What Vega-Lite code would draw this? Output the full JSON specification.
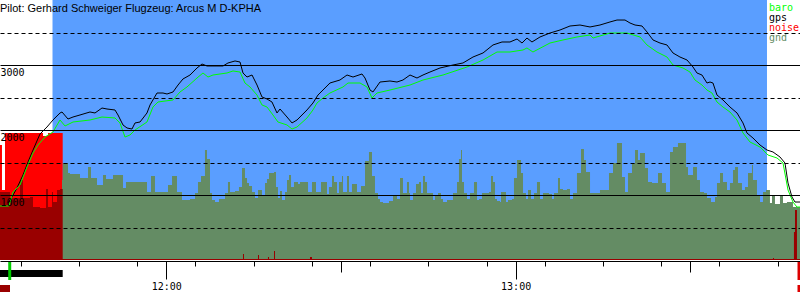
{
  "$schema": "https://vega.github.io/schema/vega-lite/v6.json",
  "width": 800,
  "height": 300,
  "padding": 0,
  "autosize": {"type": "none"},
  "background": "#ffffff",
  "config": {"view": {"stroke": null}},
  "title": {
    "text": "Pilot: Gerhard Schweiger Flugzeug: Arcus M D-KPHA",
    "anchor": "start",
    "frame": "group",
    "orient": "top",
    "offset": 0,
    "dy": 23,
    "baseline": "alphabetic",
    "font": "Liberation Sans",
    "fontSize": 11,
    "fontWeight": "normal",
    "color": "#000000"
  },
  "datasets": {
    "window": [{"start": 700.45, "end": 823.18}],
    "noiseHigh": [
      {"t": 691.43, "noise": 1769}, {"t": 691.77, "noise": 1077}, {"t": 692.29, "noise": 1954},
      {"t": 698.82, "noise": 1908}, {"t": 699.68, "noise": 1954}, {"t": 702.20, "noise": 0}
    ],
    "noiseLow": [
      {"t": 691.43, "noise": 1046}, {"t": 693.15, "noise": 954}, {"t": 694.87, "noise": 1231},
      {"t": 695.38, "noise": 954}, {"t": 696.58, "noise": 969}, {"t": 697.10, "noise": 815},
      {"t": 698.30, "noise": 800}, {"t": 699.33, "noise": 1092}, {"t": 699.68, "noise": 815},
      {"t": 700.36, "noise": 1046}, {"t": 700.53, "noise": 892}, {"t": 701.22, "noise": 1077},
      {"t": 701.74, "noise": 1092}, {"t": 702.20, "noise": 15}, {"t": 733.17, "noise": 92},
      {"t": 733.34, "noise": 15}, {"t": 735.75, "noise": 77}, {"t": 735.92, "noise": 15},
      {"t": 737.46, "noise": 46}, {"t": 737.64, "noise": 15}, {"t": 738.50, "noise": 138},
      {"t": 738.67, "noise": 15}, {"t": 744.68, "noise": 46}, {"t": 745.02, "noise": 15},
      {"t": 824.21, "noise": 31}, {"t": 824.38, "noise": 15}, {"t": 827.81, "noise": 431},
      {"t": 827.99, "noise": 769}, {"t": 828.33, "noise": 15}, {"t": 828.85, "noise": 15}
    ],
    "ground": [
      {"t": 702.08, "g": 1231}, {"t": 702.25, "g": 1492}, {"t": 703.11, "g": 1338}, {"t": 703.45, "g": 1323},
      {"t": 705.17, "g": 1262}, {"t": 706.55, "g": 1431}, {"t": 707.06, "g": 1262}, {"t": 708.09, "g": 1154},
      {"t": 709.12, "g": 1308}, {"t": 709.64, "g": 1246}, {"t": 710.84, "g": 1308}, {"t": 712.56, "g": 1108},
      {"t": 713.07, "g": 1200}, {"t": 716.68, "g": 1046}, {"t": 717.37, "g": 1292}, {"t": 718.05, "g": 1046},
      {"t": 720.29, "g": 1154}, {"t": 720.98, "g": 1292}, {"t": 721.83, "g": 1046}, {"t": 722.69, "g": 923},
      {"t": 724.07, "g": 938}, {"t": 724.93, "g": 1031}, {"t": 725.44, "g": 1200}, {"t": 725.96, "g": 1292},
      {"t": 726.64, "g": 1692}, {"t": 726.99, "g": 1554}, {"t": 727.50, "g": 1031}, {"t": 727.85, "g": 923},
      {"t": 728.36, "g": 892}, {"t": 729.05, "g": 938}, {"t": 730.08, "g": 1031}, {"t": 730.59, "g": 1200},
      {"t": 730.94, "g": 1046}, {"t": 731.80, "g": 1062}, {"t": 732.48, "g": 1123}, {"t": 733.00, "g": 1415},
      {"t": 733.51, "g": 1262}, {"t": 733.86, "g": 1185}, {"t": 734.20, "g": 1138}, {"t": 734.72, "g": 1046},
      {"t": 735.23, "g": 954}, {"t": 735.75, "g": 1077}, {"t": 736.43, "g": 985}, {"t": 736.95, "g": 1185},
      {"t": 737.29, "g": 1246}, {"t": 737.64, "g": 1338}, {"t": 738.50, "g": 1354}, {"t": 738.84, "g": 1123},
      {"t": 739.18, "g": 954}, {"t": 739.53, "g": 1062}, {"t": 739.87, "g": 923}, {"t": 740.39, "g": 1046},
      {"t": 740.73, "g": 1231}, {"t": 741.07, "g": 1308}, {"t": 741.42, "g": 1123}, {"t": 741.93, "g": 1200},
      {"t": 742.62, "g": 1169}, {"t": 742.96, "g": 1200}, {"t": 744.34, "g": 1046}, {"t": 745.02, "g": 1200},
      {"t": 745.71, "g": 1046}, {"t": 746.57, "g": 1200}, {"t": 747.60, "g": 1015}, {"t": 747.94, "g": 1123},
      {"t": 748.46, "g": 1292}, {"t": 748.80, "g": 1200}, {"t": 749.32, "g": 1031}, {"t": 749.66, "g": 1200},
      {"t": 750.18, "g": 1292}, {"t": 750.35, "g": 1046}, {"t": 751.04, "g": 1292}, {"t": 751.38, "g": 1046},
      {"t": 751.89, "g": 1169}, {"t": 752.75, "g": 1046}, {"t": 753.44, "g": 1138}, {"t": 754.13, "g": 1523},
      {"t": 754.81, "g": 1662}, {"t": 755.33, "g": 1292}, {"t": 755.84, "g": 1031}, {"t": 756.36, "g": 938},
      {"t": 756.70, "g": 892}, {"t": 757.22, "g": 877}, {"t": 758.25, "g": 908}, {"t": 758.94, "g": 985},
      {"t": 759.62, "g": 938}, {"t": 760.14, "g": 1262}, {"t": 760.65, "g": 1031}, {"t": 761.34, "g": 1200},
      {"t": 761.68, "g": 1031}, {"t": 761.86, "g": 923}, {"t": 762.37, "g": 1031}, {"t": 762.89, "g": 1169},
      {"t": 763.40, "g": 1200}, {"t": 763.75, "g": 1031}, {"t": 764.09, "g": 1292}, {"t": 764.43, "g": 1200},
      {"t": 764.78, "g": 1031}, {"t": 765.81, "g": 923}, {"t": 766.15, "g": 985}, {"t": 766.67, "g": 1031},
      {"t": 767.18, "g": 938}, {"t": 767.53, "g": 892}, {"t": 768.21, "g": 923}, {"t": 769.24, "g": 1031},
      {"t": 769.93, "g": 1200}, {"t": 770.27, "g": 1554}, {"t": 770.62, "g": 1692}, {"t": 770.79, "g": 1200},
      {"t": 771.13, "g": 1031}, {"t": 771.65, "g": 938}, {"t": 772.16, "g": 1031}, {"t": 772.85, "g": 1200},
      {"t": 773.37, "g": 923}, {"t": 773.71, "g": 938}, {"t": 774.22, "g": 1031}, {"t": 775.43, "g": 1046},
      {"t": 775.77, "g": 1292}, {"t": 776.11, "g": 1200}, {"t": 776.46, "g": 938}, {"t": 776.80, "g": 908},
      {"t": 777.32, "g": 892}, {"t": 777.49, "g": 1046}, {"t": 778.35, "g": 892}, {"t": 778.69, "g": 923},
      {"t": 779.38, "g": 938}, {"t": 779.72, "g": 1262}, {"t": 780.24, "g": 1538}, {"t": 780.92, "g": 1338},
      {"t": 781.27, "g": 1031}, {"t": 781.78, "g": 938}, {"t": 782.13, "g": 1077}, {"t": 782.64, "g": 938},
      {"t": 783.16, "g": 1031}, {"t": 783.67, "g": 1200}, {"t": 784.19, "g": 938}, {"t": 784.70, "g": 1031},
      {"t": 785.73, "g": 1015}, {"t": 786.25, "g": 938}, {"t": 786.59, "g": 1031}, {"t": 787.28, "g": 1262},
      {"t": 787.62, "g": 1092}, {"t": 788.14, "g": 1077}, {"t": 788.82, "g": 1092}, {"t": 789.34, "g": 938},
      {"t": 789.86, "g": 1031}, {"t": 790.54, "g": 1338}, {"t": 791.23, "g": 1708}, {"t": 791.74, "g": 1538},
      {"t": 792.09, "g": 1354}, {"t": 792.78, "g": 1031}, {"t": 794.49, "g": 1077}, {"t": 796.04, "g": 1338},
      {"t": 796.73, "g": 1492}, {"t": 797.41, "g": 1800}, {"t": 798.27, "g": 1277}, {"t": 798.79, "g": 1046},
      {"t": 799.30, "g": 1338}, {"t": 799.99, "g": 1492}, {"t": 800.51, "g": 1692}, {"t": 801.02, "g": 1538},
      {"t": 801.36, "g": 1646}, {"t": 802.22, "g": 1415}, {"t": 802.74, "g": 1200}, {"t": 803.43, "g": 1185},
      {"t": 804.46, "g": 1338}, {"t": 805.14, "g": 1185}, {"t": 805.83, "g": 1046}, {"t": 806.52, "g": 1662},
      {"t": 807.03, "g": 1738}, {"t": 807.89, "g": 1800}, {"t": 809.27, "g": 1431}, {"t": 809.61, "g": 1308},
      {"t": 810.47, "g": 1431}, {"t": 811.15, "g": 1231}, {"t": 811.67, "g": 1046}, {"t": 812.36, "g": 1031},
      {"t": 812.87, "g": 954}, {"t": 813.56, "g": 892}, {"t": 814.25, "g": 969}, {"t": 814.59, "g": 1185},
      {"t": 815.11, "g": 1338}, {"t": 815.62, "g": 1200}, {"t": 816.31, "g": 1077}, {"t": 816.82, "g": 1185},
      {"t": 817.34, "g": 1385}, {"t": 817.68, "g": 1431}, {"t": 818.20, "g": 1185}, {"t": 818.88, "g": 1077},
      {"t": 819.40, "g": 1123}, {"t": 819.92, "g": 1338}, {"t": 820.60, "g": 1462}, {"t": 820.77, "g": 1231},
      {"t": 821.46, "g": 1000}, {"t": 821.98, "g": 892}, {"t": 822.49, "g": 1046}, {"t": 823.01, "g": 1077},
      {"t": 823.69, "g": 877}, {"t": 824.04, "g": 1000}, {"t": 824.55, "g": 862}, {"t": 825.41, "g": 1000},
      {"t": 825.93, "g": 877}, {"t": 826.61, "g": 892}, {"t": 827.64, "g": 815}, {"t": 828.85, "g": 815}
    ],
    "flight": [
      {"t": 692.80, "s": "gps", "a": 877}, {"t": 693.49, "s": "gps", "a": 969}, {"t": 694.35, "s": "gps", "a": 1108},
      {"t": 695.38, "s": "gps", "a": 1308}, {"t": 696.24, "s": "gps", "a": 1508}, {"t": 697.10, "s": "gps", "a": 1692},
      {"t": 698.30, "s": "gps", "a": 1938}, {"t": 699.50, "s": "gps", "a": 2046}, {"t": 700.53, "s": "gps", "a": 2154},
      {"t": 701.74, "s": "gps", "a": 2262}, {"t": 702.08, "s": "gps", "a": 2277}, {"t": 703.11, "s": "gps", "a": 2169},
      {"t": 703.97, "s": "gps", "a": 2200}, {"t": 705.17, "s": "gps", "a": 2231}, {"t": 706.89, "s": "gps", "a": 2277},
      {"t": 707.75, "s": "gps", "a": 2262}, {"t": 708.95, "s": "gps", "a": 2338}, {"t": 709.81, "s": "gps", "a": 2323},
      {"t": 711.18, "s": "gps", "a": 2308}, {"t": 711.70, "s": "gps", "a": 2231}, {"t": 712.56, "s": "gps", "a": 2077},
      {"t": 713.25, "s": "gps", "a": 2031}, {"t": 714.10, "s": "gps", "a": 2015}, {"t": 714.62, "s": "gps", "a": 2108},
      {"t": 715.48, "s": "gps", "a": 2123}, {"t": 716.68, "s": "gps", "a": 2262}, {"t": 717.20, "s": "gps", "a": 2385},
      {"t": 718.40, "s": "gps", "a": 2569}, {"t": 719.43, "s": "gps", "a": 2569}, {"t": 720.12, "s": "gps", "a": 2554},
      {"t": 721.15, "s": "gps", "a": 2585}, {"t": 722.01, "s": "gps", "a": 2692}, {"t": 722.86, "s": "gps", "a": 2785},
      {"t": 724.07, "s": "gps", "a": 2846}, {"t": 725.27, "s": "gps", "a": 2954}, {"t": 726.13, "s": "gps", "a": 3015},
      {"t": 726.99, "s": "gps", "a": 2985}, {"t": 727.85, "s": "gps", "a": 2985}, {"t": 728.70, "s": "gps", "a": 2985},
      {"t": 729.74, "s": "gps", "a": 2985}, {"t": 730.59, "s": "gps", "a": 3031}, {"t": 731.80, "s": "gps", "a": 3062},
      {"t": 732.66, "s": "gps", "a": 3046}, {"t": 733.17, "s": "gps", "a": 2877}, {"t": 733.86, "s": "gps", "a": 2815},
      {"t": 734.72, "s": "gps", "a": 2846}, {"t": 735.58, "s": "gps", "a": 2692}, {"t": 736.43, "s": "gps", "a": 2508},
      {"t": 737.29, "s": "gps", "a": 2477}, {"t": 738.15, "s": "gps", "a": 2431}, {"t": 739.01, "s": "gps", "a": 2262},
      {"t": 739.53, "s": "gps", "a": 2323}, {"t": 740.73, "s": "gps", "a": 2200}, {"t": 741.59, "s": "gps", "a": 2108},
      {"t": 742.45, "s": "gps", "a": 2154}, {"t": 744.16, "s": "gps", "a": 2308}, {"t": 745.19, "s": "gps", "a": 2415},
      {"t": 746.05, "s": "gps", "a": 2538}, {"t": 746.91, "s": "gps", "a": 2615}, {"t": 748.11, "s": "gps", "a": 2723},
      {"t": 749.83, "s": "gps", "a": 2769}, {"t": 751.04, "s": "gps", "a": 2846}, {"t": 752.07, "s": "gps", "a": 2815},
      {"t": 753.61, "s": "gps", "a": 2862}, {"t": 754.13, "s": "gps", "a": 2800}, {"t": 754.99, "s": "gps", "a": 2615},
      {"t": 755.50, "s": "gps", "a": 2585}, {"t": 756.70, "s": "gps", "a": 2738}, {"t": 758.42, "s": "gps", "a": 2754},
      {"t": 759.62, "s": "gps", "a": 2738}, {"t": 760.65, "s": "gps", "a": 2769}, {"t": 761.86, "s": "gps", "a": 2846},
      {"t": 763.06, "s": "gps", "a": 2800}, {"t": 764.09, "s": "gps", "a": 2846}, {"t": 765.29, "s": "gps", "a": 2892},
      {"t": 767.01, "s": "gps", "a": 2954}, {"t": 769.24, "s": "gps", "a": 3000}, {"t": 770.96, "s": "gps", "a": 3031},
      {"t": 772.68, "s": "gps", "a": 3123}, {"t": 774.40, "s": "gps", "a": 3185}, {"t": 776.11, "s": "gps", "a": 3308},
      {"t": 777.66, "s": "gps", "a": 3354}, {"t": 779.03, "s": "gps", "a": 3354}, {"t": 780.24, "s": "gps", "a": 3400},
      {"t": 781.10, "s": "gps", "a": 3338}, {"t": 781.95, "s": "gps", "a": 3415}, {"t": 782.81, "s": "gps", "a": 3354},
      {"t": 784.19, "s": "gps", "a": 3431}, {"t": 785.90, "s": "gps", "a": 3492}, {"t": 787.62, "s": "gps", "a": 3538},
      {"t": 789.34, "s": "gps", "a": 3600}, {"t": 791.06, "s": "gps", "a": 3615}, {"t": 792.78, "s": "gps", "a": 3585},
      {"t": 794.49, "s": "gps", "a": 3615}, {"t": 796.21, "s": "gps", "a": 3662}, {"t": 797.41, "s": "gps", "a": 3692},
      {"t": 798.79, "s": "gps", "a": 3692}, {"t": 799.65, "s": "gps", "a": 3646}, {"t": 800.51, "s": "gps", "a": 3615},
      {"t": 801.71, "s": "gps", "a": 3600}, {"t": 802.57, "s": "gps", "a": 3508}, {"t": 803.60, "s": "gps", "a": 3385},
      {"t": 804.80, "s": "gps", "a": 3338}, {"t": 806.00, "s": "gps", "a": 3308}, {"t": 807.03, "s": "gps", "a": 3185},
      {"t": 808.23, "s": "gps", "a": 3123}, {"t": 809.44, "s": "gps", "a": 3077}, {"t": 810.47, "s": "gps", "a": 2969},
      {"t": 811.15, "s": "gps", "a": 2877}, {"t": 812.01, "s": "gps", "a": 2846}, {"t": 812.87, "s": "gps", "a": 2723},
      {"t": 813.39, "s": "gps", "a": 2738}, {"t": 813.90, "s": "gps", "a": 2723}, {"t": 814.59, "s": "gps", "a": 2538},
      {"t": 815.62, "s": "gps", "a": 2462}, {"t": 816.82, "s": "gps", "a": 2354}, {"t": 818.03, "s": "gps", "a": 2262},
      {"t": 819.06, "s": "gps", "a": 2108}, {"t": 819.74, "s": "gps", "a": 1954}, {"t": 820.77, "s": "gps", "a": 1877},
      {"t": 821.98, "s": "gps", "a": 1769}, {"t": 823.18, "s": "gps", "a": 1692}, {"t": 824.21, "s": "gps", "a": 1662},
      {"t": 825.41, "s": "gps", "a": 1585}, {"t": 826.27, "s": "gps", "a": 1492}, {"t": 826.79, "s": "gps", "a": 1185},
      {"t": 827.47, "s": "gps", "a": 969}, {"t": 827.99, "s": "gps", "a": 892}, {"t": 828.85, "s": "gps", "a": 892},
      {"t": 691.43, "s": "baro", "a": 831}, {"t": 692.98, "s": "baro", "a": 831}, {"t": 693.66, "s": "baro", "a": 1046},
      {"t": 694.87, "s": "baro", "a": 1154}, {"t": 696.07, "s": "baro", "a": 1431}, {"t": 697.10, "s": "baro", "a": 1646},
      {"t": 697.96, "s": "baro", "a": 1769}, {"t": 699.16, "s": "baro", "a": 1892}, {"t": 700.53, "s": "baro", "a": 1969},
      {"t": 701.74, "s": "baro", "a": 2154}, {"t": 702.60, "s": "baro", "a": 2062}, {"t": 703.97, "s": "baro", "a": 2123},
      {"t": 706.89, "s": "baro", "a": 2154}, {"t": 708.95, "s": "baro", "a": 2200}, {"t": 711.18, "s": "baro", "a": 2185},
      {"t": 712.04, "s": "baro", "a": 2108}, {"t": 712.90, "s": "baro", "a": 1892}, {"t": 713.76, "s": "baro", "a": 1923},
      {"t": 714.62, "s": "baro", "a": 2000}, {"t": 716.68, "s": "baro", "a": 2123}, {"t": 717.71, "s": "baro", "a": 2354},
      {"t": 718.57, "s": "baro", "a": 2431}, {"t": 721.15, "s": "baro", "a": 2462}, {"t": 722.35, "s": "baro", "a": 2585},
      {"t": 723.55, "s": "baro", "a": 2662}, {"t": 725.27, "s": "baro", "a": 2800}, {"t": 726.30, "s": "baro", "a": 2877},
      {"t": 727.16, "s": "baro", "a": 2815}, {"t": 728.02, "s": "baro", "a": 2846}, {"t": 730.42, "s": "baro", "a": 2877},
      {"t": 731.45, "s": "baro", "a": 2908}, {"t": 732.66, "s": "baro", "a": 2892}, {"t": 733.51, "s": "baro", "a": 2723},
      {"t": 734.37, "s": "baro", "a": 2662}, {"t": 735.58, "s": "baro", "a": 2538}, {"t": 736.43, "s": "baro", "a": 2385},
      {"t": 737.29, "s": "baro", "a": 2354}, {"t": 738.32, "s": "baro", "a": 2231}, {"t": 739.18, "s": "baro", "a": 2123},
      {"t": 740.73, "s": "baro", "a": 2077}, {"t": 741.59, "s": "baro", "a": 2015}, {"t": 742.45, "s": "baro", "a": 2046},
      {"t": 744.16, "s": "baro", "a": 2185}, {"t": 745.19, "s": "baro", "a": 2308}, {"t": 745.88, "s": "baro", "a": 2415},
      {"t": 746.91, "s": "baro", "a": 2492}, {"t": 748.11, "s": "baro", "a": 2569}, {"t": 750.35, "s": "baro", "a": 2662},
      {"t": 751.21, "s": "baro", "a": 2723}, {"t": 753.27, "s": "baro", "a": 2723}, {"t": 754.47, "s": "baro", "a": 2662},
      {"t": 755.33, "s": "baro", "a": 2492}, {"t": 756.19, "s": "baro", "a": 2569}, {"t": 758.42, "s": "baro", "a": 2615},
      {"t": 761.86, "s": "baro", "a": 2692}, {"t": 764.09, "s": "baro", "a": 2769}, {"t": 767.53, "s": "baro", "a": 2846},
      {"t": 771.65, "s": "baro", "a": 2969}, {"t": 774.40, "s": "baro", "a": 3077}, {"t": 776.80, "s": "baro", "a": 3200},
      {"t": 779.03, "s": "baro", "a": 3200}, {"t": 781.27, "s": "baro", "a": 3231}, {"t": 781.95, "s": "baro", "a": 3262},
      {"t": 782.98, "s": "baro", "a": 3200}, {"t": 785.90, "s": "baro", "a": 3338}, {"t": 788.14, "s": "baro", "a": 3385},
      {"t": 790.54, "s": "baro", "a": 3431}, {"t": 792.78, "s": "baro", "a": 3462}, {"t": 793.29, "s": "baro", "a": 3415},
      {"t": 796.21, "s": "baro", "a": 3492}, {"t": 799.13, "s": "baro", "a": 3492}, {"t": 801.36, "s": "baro", "a": 3431},
      {"t": 802.57, "s": "baro", "a": 3308}, {"t": 804.28, "s": "baro", "a": 3200}, {"t": 806.00, "s": "baro", "a": 3123},
      {"t": 807.03, "s": "baro", "a": 3000}, {"t": 808.75, "s": "baro", "a": 2954}, {"t": 809.95, "s": "baro", "a": 2892},
      {"t": 810.81, "s": "baro", "a": 2769}, {"t": 812.01, "s": "baro", "a": 2692}, {"t": 812.87, "s": "baro", "a": 2615},
      {"t": 813.73, "s": "baro", "a": 2569}, {"t": 814.59, "s": "baro", "a": 2431}, {"t": 815.62, "s": "baro", "a": 2354},
      {"t": 816.82, "s": "baro", "a": 2277}, {"t": 818.03, "s": "baro", "a": 2154}, {"t": 819.06, "s": "baro", "a": 1954},
      {"t": 820.26, "s": "baro", "a": 1815}, {"t": 821.98, "s": "baro", "a": 1738}, {"t": 823.35, "s": "baro", "a": 1615},
      {"t": 824.90, "s": "baro", "a": 1569}, {"t": 825.93, "s": "baro", "a": 1492}, {"t": 826.79, "s": "baro", "a": 1077},
      {"t": 827.64, "s": "baro", "a": 892}, {"t": 828.33, "s": "baro", "a": 815}, {"t": 828.85, "s": "baro", "a": 815}
    ],
    "events": [
      {"kind": "engine", "lane": "engine", "t0": 691.43, "t1": 702.20},
      {"kind": "noiseLow", "lane": "noise", "t0": 691.43, "t1": 693.15},
      {"kind": "noiseHigh", "lane": "noise", "t0": 828.42, "t1": 828.85},
      {"kind": "takeoff", "lane": "engine", "t0": 693.10},
      {"kind": "landing", "lane": "engine", "t0": 828.68}
    ]
  },
  "layer": [
    {
      "layer": [
        {
          "data": {"name": "window"},
          "mark": {"type": "rect", "color": "#5a9eff"},
          "encoding": {
            "x": {"field": "start", "type": "quantitative", "title": null},
            "x2": {"field": "end"},
            "y": {"datum": 4000, "type": "quantitative", "title": null},
            "y2": {"datum": 0}
          }
        },
        {
          "data": {"name": "noiseHigh"},
          "mark": {"type": "area", "interpolate": "step-after"},
          "encoding": {
            "x": {"field": "t", "type": "quantitative", "title": null},
            "y": {"field": "noise", "type": "quantitative", "title": null},
            "y2": {"datum": 0},
            "color": {"datum": "noise", "type": "nominal"}
          }
        },
        {
          "data": {"name": "ground"},
          "mark": {"type": "area", "interpolate": "step-after"},
          "encoding": {
            "x": {
              "field": "t", "type": "quantitative", "title": null,
              "scale": {"domain": [691.43, 828.85], "nice": false, "zero": false},
              "axis": {
                "orient": "bottom", "offset": -39, "title": null, "grid": false,
                "values": [695, 700, 705, 710, 715, 720, 725, 730, 735, 740, 745, 750, 755, 760, 765, 770, 775, 780, 785, 790, 795, 800, 805, 810, 815, 820, 825],
                "domainColor": "#000000", "domainWidth": 1,
                "tickColor": "#000000", "tickWidth": 1, "tickSize": 5,
                "labels": false,
                "zindex": 1
              }
            },
            "y": {
              "field": "g", "type": "quantitative", "title": null,
              "scale": {"domain": [-615.38, 4000], "nice": false, "zero": false},
              "axis": {
                "title": null,
                "values": [500, 1000, 1500, 2000, 2500, 3000, 3500],
                "grid": true, "gridColor": "#000000", "gridWidth": 1, "gridOpacity": 1,
                "gridDash": {"condition": {"test": "datum.value % 1000 === 0", "value": []}, "value": [4, 3]},
                "ticks": false, "tickSize": 0, "domain": false,
                "format": "d",
                "labelExpr": "datum.value % 1000 === 0 ? datum.label : ''",
                "labelAlign": "left", "labelBaseline": "top", "labelPadding": 0, "labelOffset": 2,
                "labelFont": "DejaVu Sans Mono", "labelFontSize": 10, "labelColor": "#000000",
                "labelOverlap": false,
                "zindex": 1
              }
            },
            "y2": {"datum": 0},
            "color": {"datum": "gnd", "type": "nominal"}
          }
        },
        {
          "data": {"name": "noiseLow"},
          "mark": {"type": "area", "interpolate": "step-after", "color": "#990000"},
          "encoding": {
            "x": {"field": "t", "type": "quantitative", "title": null},
            "y": {"field": "noise", "type": "quantitative", "title": null},
            "y2": {"datum": 0}
          }
        },
        {
          "data": {"name": "flight"},
          "mark": {"type": "line", "strokeWidth": 1},
          "encoding": {
            "x": {"field": "t", "type": "quantitative", "title": null},
            "y": {"field": "a", "type": "quantitative", "title": null},
            "color": {
              "field": "s", "type": "nominal",
              "scale": {"domain": ["baro", "gps", "noise", "gnd"], "range": ["#00ff00", "#000000", "#ff0000", "#648c64"]},
              "legend": {
                "orient": "none", "legendX": 759, "legendY": 3, "title": null,
                "symbolType": "circle", "symbolSize": 0, "symbolOpacity": 0, "symbolStrokeWidth": 0,
                "labelOffset": 0, "padding": 0, "rowPadding": -0.5,
                "labelFont": "DejaVu Sans Mono", "labelFontSize": 10,
                "labelColor": {"expr": "datum.value === 'baro' ? '#00ff00' : datum.value === 'noise' ? '#ff0000' : datum.value === 'gnd' ? '#648c64' : '#000000'"}
              }
            }
          }
        }
      ]
    },
    {
      "data": {"name": "events"},
      "layer": [
        {
          "transform": [{"filter": "datum.kind === 'engine'"}],
          "mark": {"type": "rect", "color": "#000000"},
          "encoding": {
            "x": {
              "field": "t0", "type": "quantitative", "title": null,
              "axis": {
                "orient": "bottom", "offset": -39, "title": null, "grid": false,
                "values": [750, 810], "domain": false, "labels": false,
                "tickColor": "#000000", "tickWidth": 1, "tickSize": 11, "zindex": 1
              }
            },
            "x2": {"field": "t1"},
            "y": {"field": "lane", "type": "nominal", "title": null, "axis": null,
                  "scale": {"type": "band", "domain": ["engine", "noise"], "range": [270, 292], "paddingInner": 0.533, "paddingOuter": 0}}
          }
        },
        {
          "transform": [{"filter": "datum.kind === 'noiseLow'"}],
          "mark": {"type": "rect", "color": "#990000"},
          "encoding": {
            "x": {"field": "t0", "type": "quantitative", "title": null},
            "x2": {"field": "t1"},
            "y": {"field": "lane", "type": "nominal", "title": null}
          }
        },
        {
          "transform": [{"filter": "datum.kind === 'noiseHigh'"}],
          "mark": {"type": "rect", "color": "#dd0000"},
          "encoding": {
            "x": {"field": "t0", "type": "quantitative", "title": null},
            "x2": {"field": "t1"},
            "y": {"field": "lane", "type": "nominal", "title": null}
          }
        }
      ]
    },
    {
      "data": {"name": "events"},
      "layer": [
        {
          "transform": [{"filter": "datum.kind === 'takeoff'"}],
          "mark": {"type": "tick", "color": "#00cc00", "size": 18, "thickness": 3, "yOffset": -2.5, "opacity": 1},
          "encoding": {
            "x": {
              "field": "t0", "type": "quantitative", "title": null,
              "axis": {
                "orient": "bottom", "offset": -39, "title": null, "grid": false,
                "values": [720, 780], "domain": false,
                "tickColor": "#000000", "tickWidth": 1, "tickSize": 18,
                "labelExpr": "floor(datum.value / 60) + ':00'",
                "labelFont": "DejaVu Sans Mono", "labelFontSize": 10, "labelColor": "#000000",
                "labelPadding": 2, "labelFlush": false, "labelOverlap": false, "labelBound": false,
                "zindex": 1
              }
            },
            "y": {"field": "lane", "type": "nominal", "title": null, "axis": null,
                  "scale": {"type": "band", "domain": ["engine", "noise"], "range": [270, 292], "paddingInner": 0.533, "paddingOuter": 0}}
          }
        },
        {
          "transform": [{"filter": "datum.kind === 'landing'"}],
          "mark": {"type": "tick", "color": "#dd0000", "size": 18, "thickness": 3, "yOffset": -2.5, "opacity": 1},
          "encoding": {
            "x": {"field": "t0", "type": "quantitative", "title": null},
            "y": {"field": "lane", "type": "nominal", "title": null}
          }
        }
      ]
    }
  ],
  "resolve": {"scale": {"y": "independent"}, "axis": {"x": "independent"}}
}
